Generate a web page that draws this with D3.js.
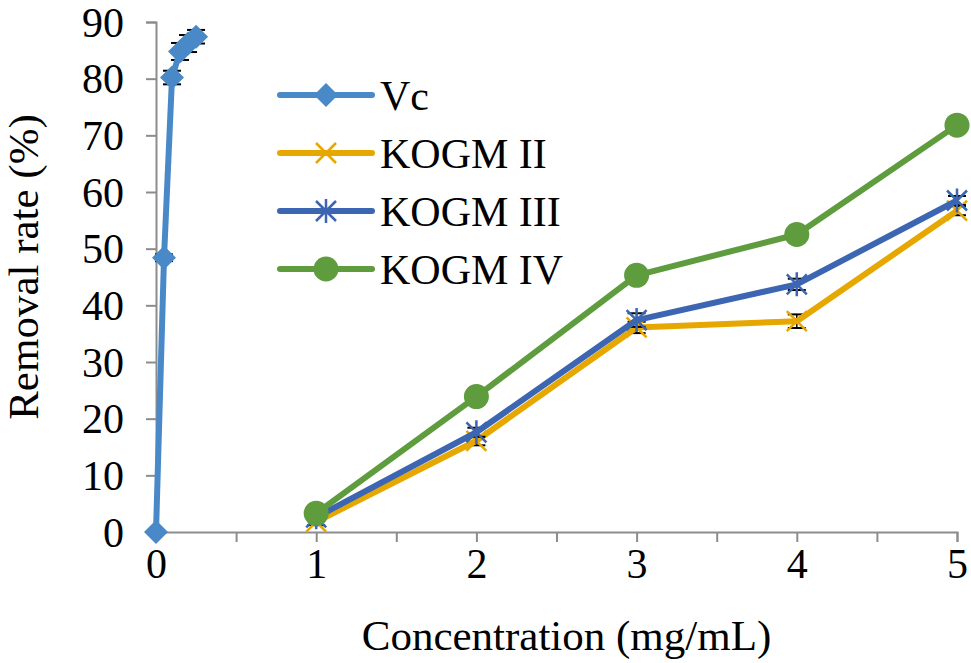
<!DOCTYPE html>
<html>
<head>
<meta charset="utf-8">
<script src="https://cdn.jsdelivr.net/npm/d3@7"></script>
<style>
  body { margin: 0; background: #fff; }
  text { font-family: "Liberation Serif", "Times New Roman", serif; fill: #000; }
</style>
</head>
<body>
<svg id="chart" width="971" height="663"></svg>
<script>
// data
const vcConc = [0, 0.05, 0.1, 0.15, 0.2, 0.25];
const vcRate = [0, 48.4, 80.2, 84.8, 86.2, 87.4];
const vcErr = [0, 0.6, 1.2, 1.5, 1.5, 1.2];

const kogmConc = [1, 2, 3, 4, 5];
const kogm2Rate = [1.8, 16.1, 36.1, 37.2, 56.7];
const kogm2Err = [0.6, 0.8, 1.0, 1.2, 0.8];
const kogm3Rate = [2.6, 17.6, 37.4, 43.7, 58.5];
const kogm3Err = [0.6, 0.8, 1.2, 1.0, 0.8];
const kogm4Rate = [3.3, 23.9, 45.3, 52.5, 71.8];
const kogm4Err = [0.5, 0.6, 0.8, 0.8, 0.6];

const yTicks = [0, 10, 20, 30, 40, 50, 60, 70, 80, 90];
const xTicks = [0, 1, 2, 3, 4, 5];
const xMinorTicks = [0.5, 1.5, 2.5, 3.5, 4.5];

const series = [
  {name: "Vc", x: vcConc, y: vcRate, err: vcErr, color: "#4A89C7", marker: "diamond"},
  {name: "KOGM II", x: kogmConc, y: kogm2Rate, err: kogm2Err, color: "#E6A800", marker: "cross"},
  {name: "KOGM III", x: kogmConc, y: kogm3Rate, err: kogm3Err, color: "#3C66B2", marker: "star"},
  {name: "KOGM IV", x: kogmConc, y: kogm4Rate, err: kogm4Err, color: "#5E9C3E", marker: "circle"}
];

const width = 971, height = 663;
const margin = {top: 22, right: 14, bottom: 131, left: 156};

const svg = d3.select("#chart");

const x = d3.scaleLinear().domain([0, 5]).range([margin.left, width - margin.right]);
const y = d3.scaleLinear().domain([0, 90]).range([height - margin.bottom, margin.top]);

const axisColor = "#8C8C8C";

// y axis
const yAxis = svg.append("g")
  .attr("transform", `translate(${x(0)},0)`)
  .call(d3.axisLeft(y).tickValues(yTicks).tickSize(10).tickPadding(22));
yAxis.select(".domain").attr("stroke", axisColor).attr("stroke-width", 2);
yAxis.selectAll(".tick line").attr("stroke", axisColor).attr("stroke-width", 2);
yAxis.selectAll(".tick text").attr("font-size", 42).attr("dy", "0.34em")
  .style("font-family", "Liberation Serif").attr("fill", "#000");

// x axis
const xAxis = svg.append("g")
  .attr("transform", `translate(0,${y(0)})`)
  .call(d3.axisBottom(x).tickValues(xTicks.concat(xMinorTicks)).tickSize(10).tickPadding(6)
    .tickFormat(d => Number.isInteger(d) ? d : ""));
xAxis.select(".domain").attr("stroke", axisColor).attr("stroke-width", 2);
xAxis.selectAll(".tick line").attr("stroke", axisColor).attr("stroke-width", 2);
xAxis.selectAll(".tick text").attr("font-size", 42)
  .style("font-family", "Liberation Serif").attr("fill", "#000");

// axis titles
svg.append("text")
  .attr("x", (x(0) + x(5)) / 2 + 10)
  .attr("y", 650)
  .attr("text-anchor", "middle")
  .attr("font-size", 43)
  .text("Concentration (mg/mL)");

svg.append("text")
  .attr("transform", `translate(38,${(y(0) + y(90)) / 2 - 10}) rotate(-90)`)
  .attr("text-anchor", "middle")
  .attr("font-size", 43)
  .text("Removal rate (%)");

function drawMarker(g, type, color) {
  if (type === "diamond") {
    g.append("path").attr("d", "M0,-12L12,0L0,12L-12,0Z").attr("fill", color);
  } else if (type === "circle") {
    g.append("circle").attr("r", 12.5).attr("fill", color);
  } else if (type === "cross") {
    g.append("path").attr("d", "M-10,-10L10,10M-10,10L10,-10")
      .attr("stroke", color).attr("stroke-width", 2.5).attr("fill", "none");
  } else if (type === "star") {
    g.append("path").attr("d", "M-10,-10L10,10M-10,10L10,-10M0,-12L0,12")
      .attr("stroke", color).attr("stroke-width", 2.5).attr("fill", "none");
  }
}

const line = d3.line().x(d => x(d[0])).y(d => y(d[1]));

series.forEach(s => {
  const pts = s.x.map((v, i) => [v, s.y[i], s.err[i]]);
  const g = svg.append("g");

  // error bars
  const eb = g.selectAll(".err").data(pts).join("g").attr("class", "err");
  eb.append("line")
    .attr("x1", d => x(d[0])).attr("x2", d => x(d[0]))
    .attr("y1", d => y(d[1] - d[2])).attr("y2", d => y(d[1] + d[2]))
    .attr("stroke", "#000").attr("stroke-width", 1.5);
  eb.selectAll(".cap").data(d => [[d[0], d[1] - d[2]], [d[0], d[1] + d[2]]]).join("line")
    .attr("x1", d => x(d[0]) - 9).attr("x2", d => x(d[0]) + 9)
    .attr("y1", d => y(d[1])).attr("y2", d => y(d[1]))
    .attr("stroke", "#000").attr("stroke-width", 2);

  g.append("path")
    .attr("d", line(pts))
    .attr("fill", "none")
    .attr("stroke", s.color)
    .attr("stroke-width", 6)
    .attr("stroke-linejoin", "round");

  g.selectAll(".mk").data(pts).join("g").attr("class", "mk")
    .attr("transform", d => `translate(${x(d[0])},${y(d[1])})`)
    .each(function() { drawMarker(d3.select(this), s.marker, s.color); });
});

// legend
const legend = svg.append("g");
series.forEach((s, i) => {
  const ly = 95 + i * 58;
  const lg = legend.append("g").attr("transform", `translate(0,${ly})`);
  lg.append("line").attr("x1", 280).attr("x2", 372).attr("y1", 0).attr("y2", 0)
    .attr("stroke", s.color).attr("stroke-width", 6).attr("stroke-linecap", "round");
  const m = lg.append("g").attr("transform", "translate(326,0)");
  drawMarker(m, s.marker, s.color);
  lg.append("text").attr("x", 380).attr("y", 15).attr("font-size", 42).text(s.name);
});
</script>
</body>
</html>
